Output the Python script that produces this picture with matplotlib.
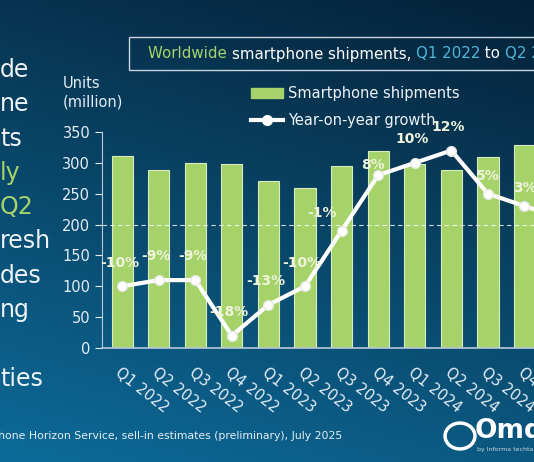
import numpy as np
import matplotlib.pyplot as plt
from matplotlib.lines import Line2D
from matplotlib.patches import Patch, Circle, Rectangle

quarters = ['Q1 2022', 'Q2 2022', 'Q3 2022', 'Q4 2022',
            'Q1 2023', 'Q2 2023', 'Q3 2023', 'Q4 2023',
            'Q1 2024', 'Q2 2024', 'Q3 2024', 'Q4 2024', 'Q1 2025']
shipments = [311, 288, 299, 298, 271, 259, 295, 320, 298, 289, 310, 329, 296]
growth = [-10, -9, -9, -18, -13, -10, -1, 8, 10, 12, 5, 3, 1]
yticks = [0, 50, 100, 150, 200, 250, 300, 350]
side_text = ['de', 'ne', 'ts', 'ly', 'Q2', 'resh', 'des', 'ng', '', 'ties']
side_green = [False, False, False, True, True, False, False, False, False, False]

GREEN = '#a5d36a'
W, H = 534, 462

fig = plt.figure(figsize=(W / 100, H / 100), dpi=100)

# background gradient
bg = fig.add_axes([0, 0, 1, 1], zorder=-10)
grad = np.linspace(0, 1, 256).reshape(-1, 1)
xg = np.linspace(0, 1, 256).reshape(1, -1)
img = grad * 0.75 + (1 - xg) * 0.25
top = np.array([0.02, 0.13, 0.22])
bot = np.array([0.05, 0.42, 0.60])
rgb = top + (bot - top) * img[..., None]
bg.imshow(rgb, extent=[0, 1, 0, 1], aspect='auto', origin='upper')
bg.set_axis_off()


def fx(px):
    return px / W


def fy(py):
    return 1 - py / H


ax = fig.add_axes([fx(102), fy(348), 1 - fx(102), fy(132) - fy(348)])
ax.patch.set_alpha(0)
x = np.arange(len(quarters))
ax.bar(x, shipments, width=0.58, color=GREEN, edgecolor='#d8ecbf', linewidth=0.8)
ax.axhline(200, color='white', lw=0.8, ls=(0, (4, 3)), alpha=0.8)

# growth mapped onto the unit axis: 0% sits on the 200 line
gy = [200 + 10 * g for g in growth]
ax.plot(x, gy, color='white', lw=3, marker='o', ms=7, mfc='white', mec='#e8e8e8', zorder=5)

offsets = {6: (-14, 8), 7: (-4, 2), 10: (0, 8), 11: (0, 8)}
for i, (xi, yi, g) in enumerate(zip(x, gy, growth)):
    dx, dy = offsets.get(i, (-2, 12))
    ax.annotate(f'{g}%', (xi, yi), xytext=(dx, dy), textcoords='offset points',
                ha='center', va='bottom', color='#eef3dc', fontsize=10,
                fontweight='bold', zorder=6)

ax.set_yticks(yticks)
ax.set_xticks(x)
ax.set_xticklabels(quarters, rotation=-38, ha='left', rotation_mode='anchor')
ax.set_xlim(-0.55, (534 - 123) / 36.5)
ax.set_ylim(0, 350)
ax.tick_params(axis='x', length=0, pad=12, colors='#e6eef5', labelsize=10.5)
ax.tick_params(axis='y', colors='#e6eef5', labelsize=10.5, length=5, direction='out')
for s in ['top', 'right']:
    ax.spines[s].set_visible(False)
ax.spines['left'].set_color('#b8c8d8')
ax.spines['bottom'].set_color('#b8c8d8')
ax.spines['bottom'].set_linewidth(1.2)

handles = [Patch(facecolor=GREEN, edgecolor=GREEN),
           Line2D([0], [0], color='white', lw=3, marker='o', ms=7)]
fig.legend(handles, ['Smartphone shipments', 'Year-on-year growth'],
           loc='upper left', bbox_to_anchor=(fx(238), fy(73)), frameon=False,
           labelcolor='#eef3f8', fontsize=10.5, handlelength=2.2, handletextpad=0.3,
           labelspacing=0.8)

fig.text(fx(63), fy(76), 'Units\n(million)', color='#e6eef5', fontsize=10.5,
         va='top', linespacing=1.3)

# title box
fig.add_artist(Rectangle((fx(129), fy(70)), 1, fy(37) - fy(70),
                         transform=fig.transFigure, fill=False,
                         edgecolor='#c8d4de', lw=1))
parts = [('Worldwide ', GREEN), ('smartphone shipments, ', 'white'),
         ('Q1 2022', '#4fb6d8'), (' to ', 'white'), ('Q2 2025', '#4fb6d8')]
prev = fig.text(fx(148), fy(54), parts[0][0], color=parts[0][1], fontsize=10.8, va='center')
for s, c in parts[1:]:
    prev = fig.add_artist(plt.Annotation(s, xy=(1, 0.5), xycoords=prev, va='center',
                                         ha='left', color=c, fontsize=10.8))

# side text (cut off on the left)
for i, (s, gr) in enumerate(zip(side_text, side_green)):
    fig.text(fx(0), fy(70 + 34.3 * i), s, color=GREEN if gr else '#eef3f8',
             fontsize=17, va='center', ha='left')

fig.text(fx(342), fy(436), 'Source: Omdia Smartphone Horizon Service, sell-in estimates (preliminary), July 2025',
         color='#e6eef5', fontsize=7.8, ha='right', va='center')

fig.add_artist(Circle((fx(460), fy(436)), 0.028, transform=fig.transFigure,
                      fill=False, edgecolor='white', lw=2.5))
fig.text(fx(475), fy(431), 'Omdia', color='white', fontsize=19, fontweight='bold',
         va='center', ha='left')
fig.text(fx(477), fy(449), 'by Informa techtarget', color='#cfd8e0', fontsize=4.5,
         va='center', ha='left')

fig.savefig('out.png', dpi=100)
